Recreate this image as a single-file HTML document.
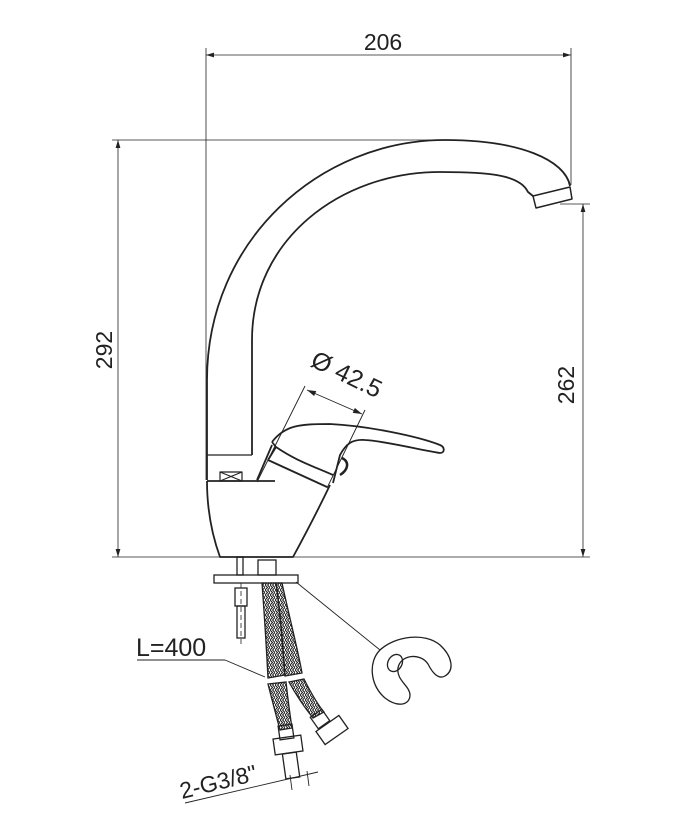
<!DOCTYPE html>
<html><head><style>
body{margin:0;background:#fff}
svg{display:block}
text{font-family:"Liberation Sans",sans-serif;fill:#222}
</style></head><body>
<svg width="678" height="832" viewBox="0 0 678 832" xmlns="http://www.w3.org/2000/svg">
<defs>
<marker id="a" viewBox="0 0 10 6" refX="10" refY="3" markerWidth="10" markerHeight="6" orient="auto-start-reverse"><path d="M0,0L10,3L0,6z" fill="#222"/></marker>
<pattern id="br" width="5" height="5" patternUnits="userSpaceOnUse"><path d="M0,0L2.5,2.5L0,5M2.5,0L5,2.5L2.5,5" stroke="#222" stroke-width="1.1" fill="none"/></pattern>
</defs>
<g stroke="#222" fill="none" stroke-width="0.8">
<line x1="206" y1="48" x2="206" y2="480"/>
<line x1="571" y1="48" x2="571" y2="185"/>
<line x1="206" y1="55" x2="571" y2="55" marker-start="url(#a)" marker-end="url(#a)"/>
<line x1="112" y1="140" x2="440" y2="140"/>
<line x1="118" y1="140" x2="118" y2="557" marker-start="url(#a)" marker-end="url(#a)"/>
<line x1="112" y1="557" x2="590" y2="557"/>
<line x1="560" y1="204" x2="590" y2="204"/>
<line x1="583" y1="204" x2="583" y2="557" marker-start="url(#a)" marker-end="url(#a)"/>
</g>
<text x="383" y="50" font-size="23" text-anchor="middle">206</text>
<text transform="translate(112,350) rotate(-90)" font-size="23" text-anchor="middle">292</text>
<text transform="translate(574,385) rotate(-90)" font-size="23" text-anchor="middle">262</text>
<text transform="translate(343,382) rotate(26)" font-size="25" text-anchor="middle">Ø 42.5</text>
<g stroke="#222" fill="none" stroke-width="1.8" stroke-linejoin="round">
<path d="M207,480 L207,380 C207,240 320,140 445,140 C520,140 565,160 570,186"/>
<path d="M252,455 L252,340 C252,240 340,172 440,172 C490,172 520,175 528,192 L533,196"/>
<path d="M533,196 L570,187 L572,199 L536,208 Z" stroke-width="1.5"/>
<path d="M207,455 L252,455" stroke-width="1.2"/>
<rect x="220" y="472" width="22" height="9" stroke-width="1.2"/>
<path d="M220,472 L242,481 M242,472 L220,481" stroke-width="1"/>
<path d="M207,481 L275,481"/>
<path d="M207,481 C207,510 212,535 220,557 L293,557 C305,535 318,510 330,485"/>
<path d="M257,480 L272,445"/>
<path d="M272,442 C285,425 300,424 330,424 C370,426 420,437 440,445 C445,447 445,453 440,453 C420,450 385,441 365,440 C352,439 346,444 340,455 L333,483"/>
<path d="M272,442 L276,447 C295,460 310,465 333,475"/>
<path d="M268,460 L327,487"/>
<path d="M276,447 L268,460"/>
<path d="M342,458 C350,462 348,470 340,475" stroke-width="2.5"/>
</g>
<g stroke="#222" fill="none" stroke-width="0.9">
<line x1="305" y1="386" x2="257" y2="482"/>
<line x1="365" y1="410" x2="327" y2="488"/>
<line x1="307" y1="390" x2="362" y2="414" marker-start="url(#a)" marker-end="url(#a)"/>
</g>
<g stroke="#222" fill="none" stroke-width="1.3">
<rect x="237" y="557" width="6" height="18"/>
<rect x="258" y="560" width="18" height="15"/>
<rect x="214" y="575" width="84" height="8"/>
<rect x="235" y="588" width="12" height="18"/>
<rect x="237" y="606" width="8" height="32"/>
<line x1="241" y1="583" x2="241" y2="645" stroke-dasharray="5,3" stroke-width="0.8"/>
<path d="M262,583 L276,583 C280,610 282,635 285,675 L268,678 C266,640 264,610 262,583Z" fill="url(#br)"/>
<path d="M276,583 L282,583 C290,620 298,650 302,673 L285,676 C282,640 280,610 276,583Z" fill="url(#br)"/>
<path d="M268,684 L286,682 C288,700 290,715 292,728 L280,730 C276,715 272,700 268,684Z" fill="url(#br)"/>
<path d="M289,682 L304,679 C312,695 318,705 324,712 L313,718 C305,708 296,695 289,682Z" fill="url(#br)"/>
<rect x="279" y="725" width="14" height="14" transform="rotate(-8 286 732)"/>
<rect x="274" y="737" width="28" height="16" transform="rotate(-8 288 745)"/>
<rect x="284" y="753" width="14" height="25" transform="rotate(-8 291 765)"/>
<rect x="313" y="712" width="14" height="14" transform="rotate(-35 320 719)"/>
<rect x="318" y="722" width="28" height="16" transform="rotate(-35 332 730)"/>
<path d="M380,650 C395,636 425,632 440,645 C452,656 455,670 445,676 C438,680 432,672 428,664 C420,652 400,655 398,668 C396,680 410,686 410,695 C410,705 398,708 385,698 C370,685 368,662 380,650Z"/>
<ellipse cx="395" cy="663" rx="7" ry="9" transform="rotate(30 395 663)"/>
</g>
<g stroke="#222" fill="none" stroke-width="0.9">
<line x1="296" y1="582" x2="380" y2="650"/>
<line x1="137" y1="660" x2="225" y2="660"/>
<line x1="225" y1="660" x2="265" y2="677"/>
<line x1="185" y1="803" x2="318" y2="772"/>
<line x1="290" y1="775" x2="292" y2="790"/>
<line x1="307" y1="771" x2="309" y2="786"/>
</g>
<text x="136" y="656" font-size="25">L=400</text>
<text transform="translate(182,799) rotate(-14)" font-size="23">2-G3/8"</text>
</svg>
</body></html>
